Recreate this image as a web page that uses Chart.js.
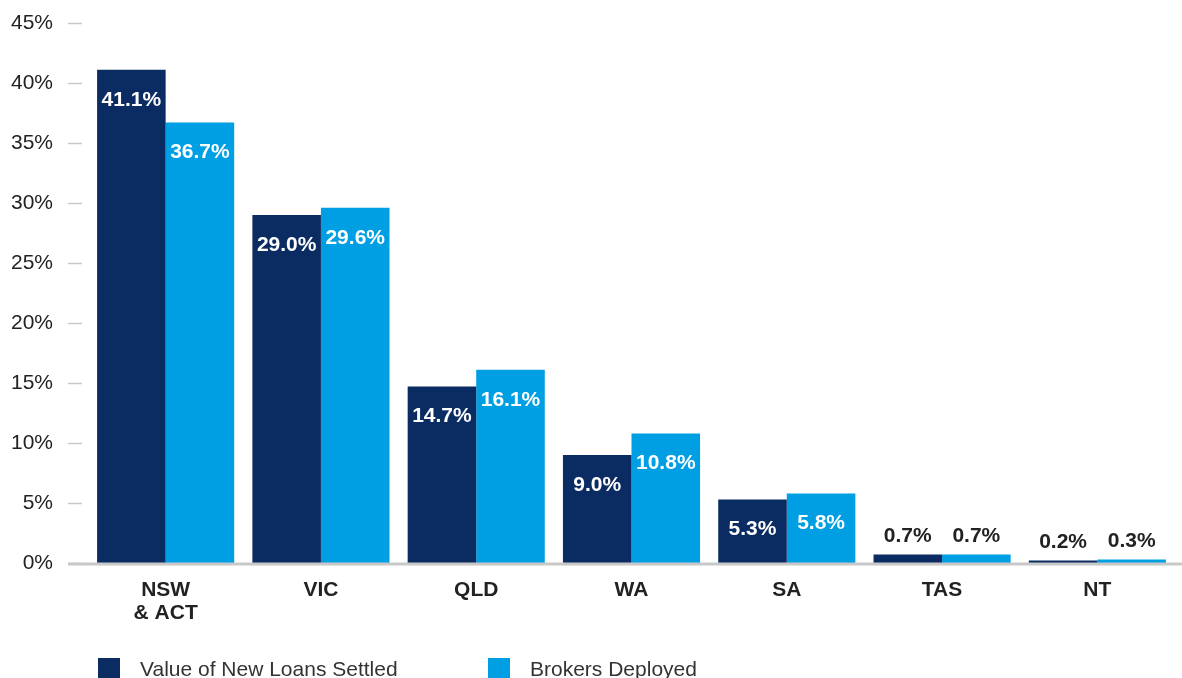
<!DOCTYPE html>
<html><head><meta charset="utf-8">
<script src="https://cdn.jsdelivr.net/npm/chart.js@4.4.1/dist/chart.umd.min.js"></script>
<style>
html,body{margin:0;padding:0;background:#fff;overflow:hidden;width:1182px;height:678px;}
#wrap{position:relative;width:1182px;height:678px;}
canvas{position:absolute;left:0;top:0;}
.lg{position:absolute;font-family:"Liberation Sans",Arial,Helvetica,sans-serif;font-size:21px;line-height:22px;color:#333;white-space:nowrap;}
.sw{position:absolute;width:22px;height:22px;}
</style></head>
<body><div id="wrap"><canvas id="c" width="1182" height="678"></canvas></div>
<script>
const categories = [["NSW","& ACT"],"VIC","QLD","WA","SA","TAS","NT"];
const seriesNames = ["Value of New Loans Settled","Brokers Deployed"];
const loansSettled = [41.1,29.0,14.7,9.0,5.3,0.7,0.2];
const brokersDeployed = [36.7,29.6,16.1,10.8,5.8,0.7,0.3];
const yTicks = [0,5,10,15,20,25,30,35,40,45];
const colors = ["#0b2c62","#009fe3"];

const FONT = '"Liberation Sans", Arial, Helvetica, sans-serif';

const decor = {
  id:'decor',
  afterDatasetsDraw(chart){
    const ctx = chart.ctx, y = chart.scales.y, area = chart.chartArea;
    ctx.save();
    ctx.strokeStyle = '#c8c8c8';
    ctx.lineWidth = 1.5;
    yTicks.forEach(v=>{
      const py = Math.round(y.getPixelForValue(v))+0.5;
      ctx.beginPath(); ctx.moveTo(area.left-20, py); ctx.lineTo(area.left-6, py); ctx.stroke();
    });
    const by = y.getPixelForValue(0);
    ctx.lineWidth = 3;
    ctx.beginPath(); ctx.moveTo(area.left-20, by+1); ctx.lineTo(chart.width, by+1); ctx.stroke();
    ctx.font = 'bold 21px ' + FONT;
    ctx.textAlign = 'center';
    ctx.textBaseline = 'middle';
    chart.data.datasets.forEach((ds,di)=>{
      const meta = chart.getDatasetMeta(di);
      meta.data.forEach((bar,i)=>{
        const v = ds.data[i];
        const txt = v.toFixed(1)+'%';
        if (v >= 1){
          ctx.fillStyle = '#ffffff';
          ctx.fillText(txt, bar.x, bar.y+30);
        } else {
          ctx.fillStyle = '#222222';
          ctx.fillText(txt, bar.x, bar.y-18);
        }
      });
    });
    ctx.restore();
  }
};

const chart = new Chart(document.getElementById('c'), {
  type:'bar',
  data:{
    labels: categories,
    datasets:[
      {label:seriesNames[0], data:loansSettled, backgroundColor:colors[0], categoryPercentage:0.883, barPercentage:1, borderWidth:0},
      {label:seriesNames[1], data:brokersDeployed, backgroundColor:colors[1], categoryPercentage:0.883, barPercentage:1, borderWidth:0}
    ]
  },
  options:{
    responsive:false, animation:false, devicePixelRatio:1,
    layout:{padding:{top:0,right:7,left:0,bottom:0}},
    plugins:{legend:{display:false}, tooltip:{enabled:false}},
    scales:{
      x:{
        grid:{display:false, drawTicks:false},
        border:{display:false},
        ticks:{font:{family:FONT,size:21,weight:'bold',lineHeight:1.12}, color:'#222', padding:15, maxRotation:0},
        afterFit(s){ s.height = 115; }
      },
      y:{
        min:0, max:45,
        grid:{display:false, drawTicks:false},
        border:{display:false},
        afterBuildTicks(s){ s.ticks = yTicks.map(v=>({value:v})); },
        ticks:{font:{family:FONT,size:21}, color:'#222', padding:35, callback:v=>v+'%'},
        afterFit(s){ s.width = 88; s.paddingTop = 23; }
      }
    }
  },
  plugins:[decor]
});

const wrap = document.getElementById('wrap');
const legendPos = [98, 488];
chart.data.datasets.forEach((ds,i)=>{
  const sw = document.createElement('div');
  sw.className='sw'; sw.style.left=legendPos[i]+'px'; sw.style.top='658px'; sw.style.background=ds.backgroundColor;
  wrap.appendChild(sw);
  const t = document.createElement('div');
  t.className='lg'; t.style.left=(legendPos[i]+42)+'px'; t.style.top='658px'; t.textContent=ds.label;
  wrap.appendChild(t);
});
</script>
</body></html>
